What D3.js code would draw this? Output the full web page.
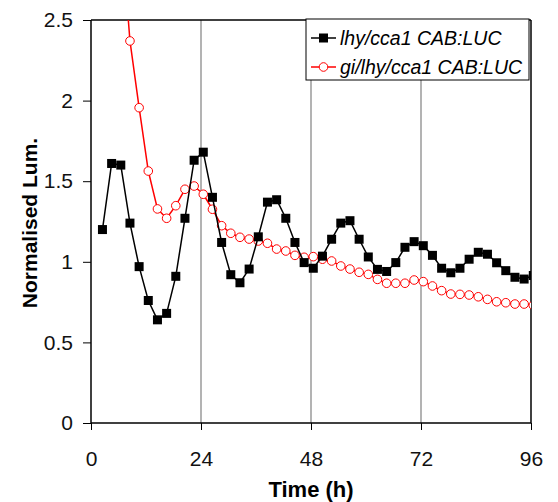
<!DOCTYPE html>
<html>
<head>
<meta charset="utf-8">
<script src="https://cdn.jsdelivr.net/npm/d3@7"></script>
<style>
  body { margin: 0; background: #fff; }
  text { font-family: "Liberation Sans", Arial, sans-serif; }
</style>
</head>
<body>
<svg id="chart" width="558" height="502"></svg>
<script>
const timesLhy = [2.5, 4.5, 6.5, 8.5, 10.5, 12.5, 14.5, 16.5, 18.5, 20.5, 22.5, 24.5,
	26.5, 28.5, 30.5, 32.5, 34.5, 36.5, 38.5, 40.5, 42.5, 44.5, 46.5, 48.5, 50.5,
	52.5, 54.5, 56.5, 58.5, 60.5, 62.5, 64.5, 66.5, 68.5, 70.5, 72.5, 74.5, 76.5,
	78.5, 80.5, 82.5, 84.5, 86.5, 88.5, 90.5, 92.5, 94.5, 96.5];
const lhyValues = [1.20, 1.61, 1.60, 1.24, 0.97, 0.76, 0.64, 0.68, 0.91, 1.27, 1.63, 1.68,
	1.40, 1.12, 0.92, 0.87, 0.955, 1.155, 1.37, 1.385, 1.27, 1.12, 0.995, 0.96, 1.035,
	1.14, 1.24, 1.255, 1.14, 1.03, 0.953, 0.94, 0.995, 1.09, 1.125, 1.10, 1.04, 0.96,
	0.932, 0.96, 1.016, 1.059, 1.047, 0.994, 0.945, 0.904, 0.893, 0.915];

const timesGi = [6.5, 8.5, 10.5, 12.5, 14.5, 16.5, 18.5, 20.5, 22.5, 24.5, 26.5, 28.5,
	30.5, 32.5, 34.5, 36.5, 38.5, 40.5, 42.5, 44.5, 46.5, 48.5, 50.5, 52.5, 54.5,
	56.5, 58.5, 60.5, 62.5, 64.5, 66.5, 68.5, 70.5, 72.5, 74.5, 76.5, 78.5, 80.5,
	82.5, 84.5, 86.5, 88.5, 90.5, 92.5, 94.5, 96.5];
const giValues = [3.10, 2.37, 1.956, 1.563, 1.328, 1.27, 1.348, 1.45, 1.47, 1.419, 1.326, 1.224,
	1.177, 1.152, 1.141, 1.129, 1.115, 1.079, 1.067, 1.04, 1.028, 1.032, 1.016, 1.005, 0.974,
	0.955, 0.935, 0.922, 0.891, 0.867, 0.867, 0.867, 0.887, 0.877, 0.85, 0.821, 0.80, 0.798,
	0.794, 0.783, 0.767, 0.752, 0.746, 0.738, 0.738, 0.73];

const xTicks = [0, 24, 48, 72, 96];
const yTicks = [0, 0.5, 1, 1.5, 2, 2.5];
const gridTimes = [24, 48, 72];
const seriesNames = ["lhy/cca1 CAB:LUC", "gi/lhy/cca1 CAB:LUC"];

const margin = {top: 20, right: 27, bottom: 79, left: 91};
const width = 558 - margin.left - margin.right,
	height = 502 - margin.top - margin.bottom;

const svg = d3.select("#chart");

const x = d3.scaleLinear().domain([0, 96]).range([0, width]);
const y = d3.scaleLinear().domain([0, 2.5]).range([height, 0]);

const g = svg.append("g")
	.attr("transform", "translate(" + margin.left + "," + margin.top + ")");

svg.append("defs").append("clipPath")
	.attr("id", "plotClip")
	.append("rect")
	.attr("x", 0).attr("y", 0)
	.attr("width", width).attr("height", height);

// vertical grid lines
g.selectAll(".grid")
	.data(gridTimes)
	.enter()
	.append("line")
	.attr("class", "grid")
	.attr("x1", d => x(d)).attr("x2", d => x(d))
	.attr("y1", 0).attr("y2", height)
	.style("stroke", "#808080")
	.style("stroke-width", 1.2);

// frame top + right
g.append("line")
	.attr("x1", 0).attr("x2", width).attr("y1", 0).attr("y2", 0)
	.style("stroke", "#000").style("stroke-width", 1.5);
g.append("line")
	.attr("x1", width).attr("x2", width).attr("y1", 0).attr("y2", height)
	.style("stroke", "#000").style("stroke-width", 1.5);

// axes
const xAxis = g.append("g")
	.attr("transform", "translate(0," + height + ")")
	.call(d3.axisBottom(x).tickValues(xTicks).tickSize(7).tickPadding(21).tickFormat(d3.format("d")));
const yAxis = g.append("g")
	.call(d3.axisLeft(y).tickValues(yTicks).tickSize(8).tickPadding(10).tickFormat(d => d));

[xAxis, yAxis].forEach(a => {
	a.select(".domain").style("stroke", "#000").style("stroke-width", 1.5);
	a.selectAll(".tick line").style("stroke", "#000").style("stroke-width", 1);
	a.selectAll(".tick text")
		.style("font-family", "Liberation Sans, Arial, sans-serif")
		.style("font-size", "21px")
		.style("fill", "#111");
});
yAxis.select(".domain").attr("d", "M0," + height + "V0");
xAxis.select(".domain").attr("d", "M0,0H" + width);

// axis titles
svg.append("text")
	.attr("x", margin.left + width / 2)
	.attr("y", 497)
	.attr("text-anchor", "middle")
	.style("font-size", "22px")
	.style("font-weight", "bold")
	.text("Time (h)");

svg.append("text")
	.attr("transform", "translate(37,223) rotate(-90)")
	.attr("text-anchor", "middle")
	.style("font-size", "21px")
	.style("font-weight", "bold")
	.text("Normalised Lum.");

// series
const lhyData = timesLhy.map((t, i) => ({t: t, v: lhyValues[i]}));
const giData = timesGi.map((t, i) => ({t: t, v: giValues[i]}));

const line = d3.line()
	.x(d => x(d.t))
	.y(d => y(d.v));

const plot = g.append("g").attr("clip-path", "url(#plotClip)");

plot.append("path")
	.datum(giData)
	.attr("d", line)
	.style("fill", "none")
	.style("stroke", "#ff0000")
	.style("stroke-width", 1.5);

plot.selectAll(".giDot")
	.data(giData)
	.enter()
	.append("circle")
	.attr("class", "giDot")
	.attr("cx", d => x(d.t))
	.attr("cy", d => y(d.v))
	.attr("r", 4.3)
	.style("fill", "#fff")
	.style("stroke", "#ff0000")
	.style("stroke-width", 1);

plot.append("path")
	.datum(lhyData)
	.attr("d", line)
	.style("fill", "none")
	.style("stroke", "#000")
	.style("stroke-width", 1.5);

plot.selectAll(".lhyDot")
	.data(lhyData)
	.enter()
	.append("rect")
	.attr("class", "lhyDot")
	.attr("x", d => x(d.t) - 4.5)
	.attr("y", d => y(d.v) - 4.5)
	.attr("width", 9)
	.attr("height", 9)
	.style("fill", "#000");

// legend
const legend = svg.append("g")
	.attr("transform", "translate(306,19)");

legend.append("rect")
	.attr("x", 0).attr("y", 0)
	.attr("width", 223).attr("height", 61)
	.style("fill", "#fff")
	.style("stroke", "#000")
	.style("stroke-width", 1);

const legendColors = ["#000", "#ff0000"];
seriesNames.forEach(function(name, i) {
	const cy = 19 + i * 29;
	legend.append("line")
		.attr("x1", 5).attr("x2", 30)
		.attr("y1", cy).attr("y2", cy)
		.style("stroke", legendColors[i])
		.style("stroke-width", 1.5);
	if (i == 0) {
		legend.append("rect")
			.attr("x", 13).attr("y", cy - 4.5)
			.attr("width", 9).attr("height", 9)
			.style("fill", "#000");
	} else {
		legend.append("circle")
			.attr("cx", 17.5).attr("cy", cy)
			.attr("r", 4.3)
			.style("fill", "#fff")
			.style("stroke", "#ff0000");
	}
	legend.append("text")
		.attr("x", 34)
		.attr("y", cy + 7)
		.style("font-size", "19.5px")
		.style("font-style", "italic")
		.text(name);
});
</script>
</body>
</html>
